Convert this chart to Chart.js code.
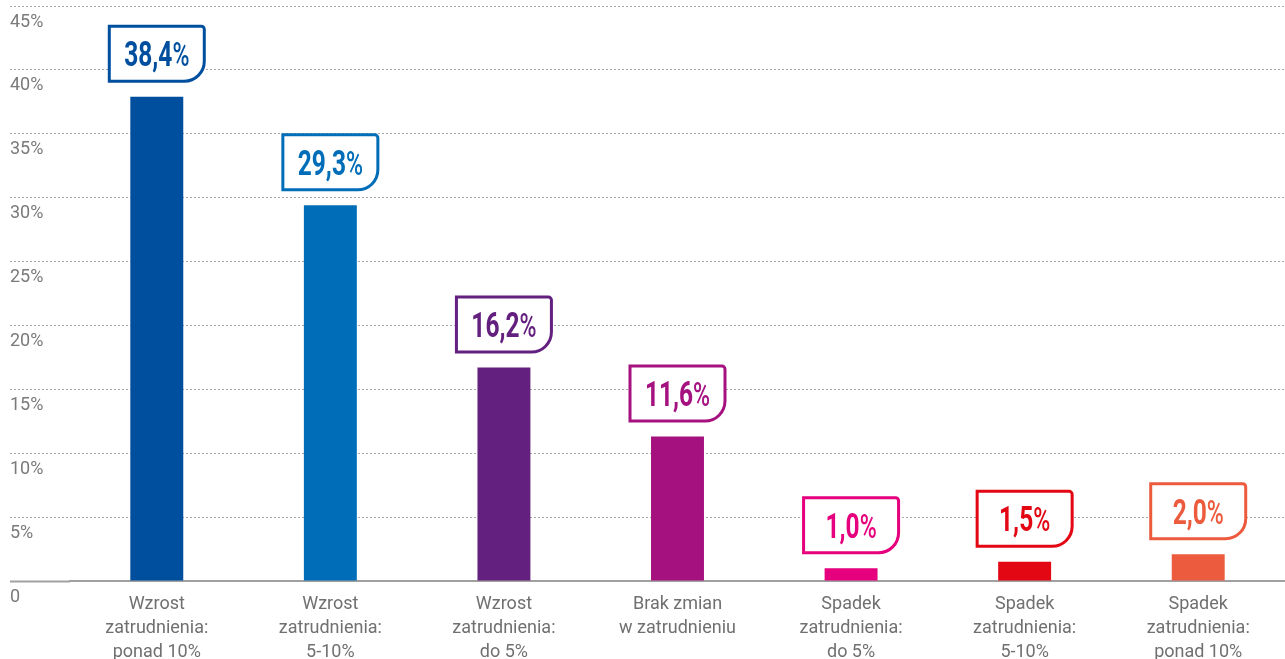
<!DOCTYPE html>
<html>
<head>
<meta charset="utf-8">
<script src="https://cdn.jsdelivr.net/npm/chart.js@4/dist/chart.umd.min.js"></script>
<style>
  html, body { margin: 0; padding: 0; background: #fff; overflow: hidden; }
  canvas { display: block; }
</style>
</head>
<body>
<canvas id="c" width="1285" height="659"></canvas>
<script>
const categories = [
  ['Wzrost', 'zatrudnienia:', 'ponad 10%'],
  ['Wzrost', 'zatrudnienia:', '5-10%'],
  ['Wzrost', 'zatrudnienia:', 'do 5%'],
  ['Brak zmian', 'w zatrudnieniu'],
  ['Spadek', 'zatrudnienia:', 'do 5%'],
  ['Spadek', 'zatrudnienia:', '5-10%'],
  ['Spadek', 'zatrudnienia:', 'ponad 10%']
];
const values = [37.9, 29.4, 16.7, 11.3, 1.0, 1.5, 2.1];
const valueLabels = ['38,4', '29,3', '16,2', '11,6', '1,0', '1,5', '2,0'];
const barColors = ['#004f9f', '#006db8', '#63207f', '#a5117f', '#e6007e', '#e30613', '#ec5b3e'];

const isZero = ctx => ctx.tick && ctx.tick.value === 0;

const labelBoxes = {
  id: 'labelBoxes',
  afterDatasetsDraw(chart) {
    const ctx = chart.ctx;
    const meta = chart.getDatasetMeta(0);
    meta.data.forEach((bar, i) => {
      const color = barColors[i];
      const w = 95, h = 55, r = 20, rt = 3;
      const cx = bar.x;
      const bottom = bar.y - 15.5;
      const top = bottom - h;
      const left = cx - w / 2, right = cx + w / 2;
      ctx.save();
      ctx.beginPath();
      ctx.moveTo(left, top);
      ctx.lineTo(right - rt, top);
      ctx.arcTo(right, top, right, top + rt, rt);
      ctx.lineTo(right, bottom - r);
      ctx.arcTo(right, bottom, right - r, bottom, r);
      ctx.lineTo(left, bottom);
      ctx.closePath();
      ctx.fillStyle = '#fff';
      ctx.fill();
      ctx.lineWidth = 3;
      ctx.strokeStyle = color;
      ctx.stroke();

      // bold number + lighter percent sign, horizontally condensed
      const sx = 0.7;
      const numFont = 'bold 35px Roboto';
      const pctFont = '500 33px Roboto';
      ctx.font = numFont;
      const wNum = ctx.measureText(valueLabels[i]).width;
      ctx.font = pctFont;
      const wPct = ctx.measureText('%').width;
      const total = (wNum + wPct) * sx;
      const baseY = (top + bottom) / 2 + 12.5;
      ctx.translate(cx - total / 2, baseY);
      ctx.scale(sx, 1);
      ctx.fillStyle = color;
      ctx.textBaseline = 'alphabetic';
      ctx.textAlign = 'left';
      ctx.font = numFont;
      ctx.fillText(valueLabels[i], 0, 0);
      ctx.font = pctFont;
      ctx.fillText('%', wNum, 0);
      ctx.restore();
    });
  }
};

new Chart(document.getElementById('c'), {
  type: 'bar',
  data: {
    labels: categories,
    datasets: [{
      data: values,
      backgroundColor: barColors,
      borderWidth: 0,
      barPercentage: 0.305,
      categoryPercentage: 1
    }]
  },
  options: {
    responsive: false,
    devicePixelRatio: 1,
    animation: false,
    layout: { padding: { left: 10, top: 6, right: -3, bottom: 0 } },
    plugins: { legend: { display: false }, tooltip: { enabled: false } },
    scales: {
      x: {
        offset: true,
        grid: { display: false, drawTicks: false },
        border: { display: true, color: '#a0a0a0', width: 2 },
        ticks: {
          color: '#707070',
          padding: 12,
          maxRotation: 0,
          autoSkip: false,
          font: { family: 'Roboto', size: 18, lineHeight: 1.333 }
        },
        afterFit(s) { s.height = 78; s.paddingLeft = 0; s.paddingRight = 0; }
      },
      y: {
        min: 0,
        max: 45,
        ticks: {
          stepSize: 5,
          color: '#7a7a7a',
          crossAlign: 'far',
          labelOffset: 16,
          padding: 0,
          font: { family: 'Roboto', size: 18 },
          callback: v => v === 0 ? '0' : v + '%'
        },
        grid: {
          drawTicks: true,
          tickLength: 60,
          color: ctx => isZero(ctx) ? 'rgba(0,0,0,0)' : '#a8a8a8',
          tickColor: ctx => isZero(ctx) ? '#a0a0a0' : '#a8a8a8',
          tickWidth: ctx => isZero(ctx) ? 2 : 1,
          tickBorderDash: ctx => isZero(ctx) ? [] : [2, 2],
          lineWidth: 1
        },
        border: { display: false, dash: [2, 2] },
        afterFit(s) { s.width = 60; s.paddingTop = 0; s.paddingBottom = 0; }
      }
    }
  },
  plugins: [labelBoxes]
});
</script>
</body>
</html>
